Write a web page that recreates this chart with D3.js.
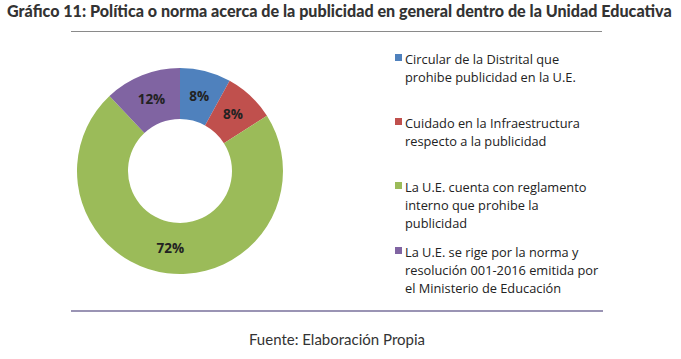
<!DOCTYPE html>
<html><head><meta charset="utf-8">
<script src="https://cdn.jsdelivr.net/npm/d3@7"></script>
<style>body{margin:0;background:#fff}svg{display:block}</style>
</head><body>
<svg id="c" width="681" height="359"></svg>
<script>
const categories = [
  ["Circular de la Distrital que", "prohibe publicidad en la U.E."],
  ["Cuidado en la Infraestructura", "respecto a la publicidad"],
  ["La U.E. cuenta con reglamento", "interno que prohibe la", "publicidad"],
  ["La U.E. se rige por la norma y", "resolución 001-2016 emitida por", "el Ministerio de Educación"]
];
const values = [8, 8, 72, 12];
const colors = ["#4F81BD", "#C0504D", "#9BBB59", "#8064A2"];
const title = "Gráfico 11: Política o norma acerca de la publicidad en general dentro de la Unidad Educativa";
const source = "Fuente: Elaboración Propia";
const legendTops = [59, 123, 187, 252];

const svg = d3.select("#c");
const t = svg.append("text").attr("x", 7).attr("y", 17)
  .attr("font-family", "Lato, sans-serif").attr("font-weight", 900)
  .attr("font-size", 15).attr("fill", "#333").text(title);
const w = t.node().getComputedTextLength();
t.attr("font-size", 15 * 665 / w);

svg.append("line").attr("x1", 71).attr("x2", 602).attr("y1", 31.5).attr("y2", 31.5)
  .attr("stroke", "#8a8a8a").attr("stroke-width", 1);
svg.append("line").attr("x1", 71).attr("x2", 603).attr("y1", 311).attr("y2", 311)
  .attr("stroke", "#9a94b4").attr("stroke-width", 2);

const pie = d3.pie().sort(null).value(d => d);
const arc = d3.arc().innerRadius(52).outerRadius(103);
const g = svg.append("g").attr("transform", "translate(180,171)");
const arcs = pie(values);
g.selectAll("path").data(arcs).join("path")
  .attr("d", arc).attr("fill", (d, i) => colors[i]);
g.selectAll("text").data(arcs).join("text")
  .attr("transform", d => `translate(${arc.centroid(d)})`)
  .attr("text-anchor", "middle").attr("dy", "0.35em")
  .attr("font-family", "Open Sans, sans-serif").attr("font-weight", 700)
  .attr("font-size", 13.5).attr("fill", "#222")
  .text(d => d.data + "%");

const lg = svg.append("g");
categories.forEach((lines, i) => {
  const y0 = legendTops[i];
  lg.append("rect").attr("x", 395).attr("y", y0 - 5).attr("width", 7).attr("height", 7)
    .attr("fill", colors[i]);
  lines.forEach((s, j) => {
    lg.append("text").attr("x", 405).attr("y", y0 + j * 18 + 4.5)
      .attr("font-family", "Open Sans, sans-serif").attr("font-size", 12.8)
      .attr("fill", "#222").text(s);
  });
});

svg.append("text").attr("x", 337).attr("y", 345).attr("text-anchor", "middle")
  .attr("font-family", "Lato, sans-serif").attr("font-size", 15)
  .attr("fill", "#333").text(source);
</script>
</body></html>
